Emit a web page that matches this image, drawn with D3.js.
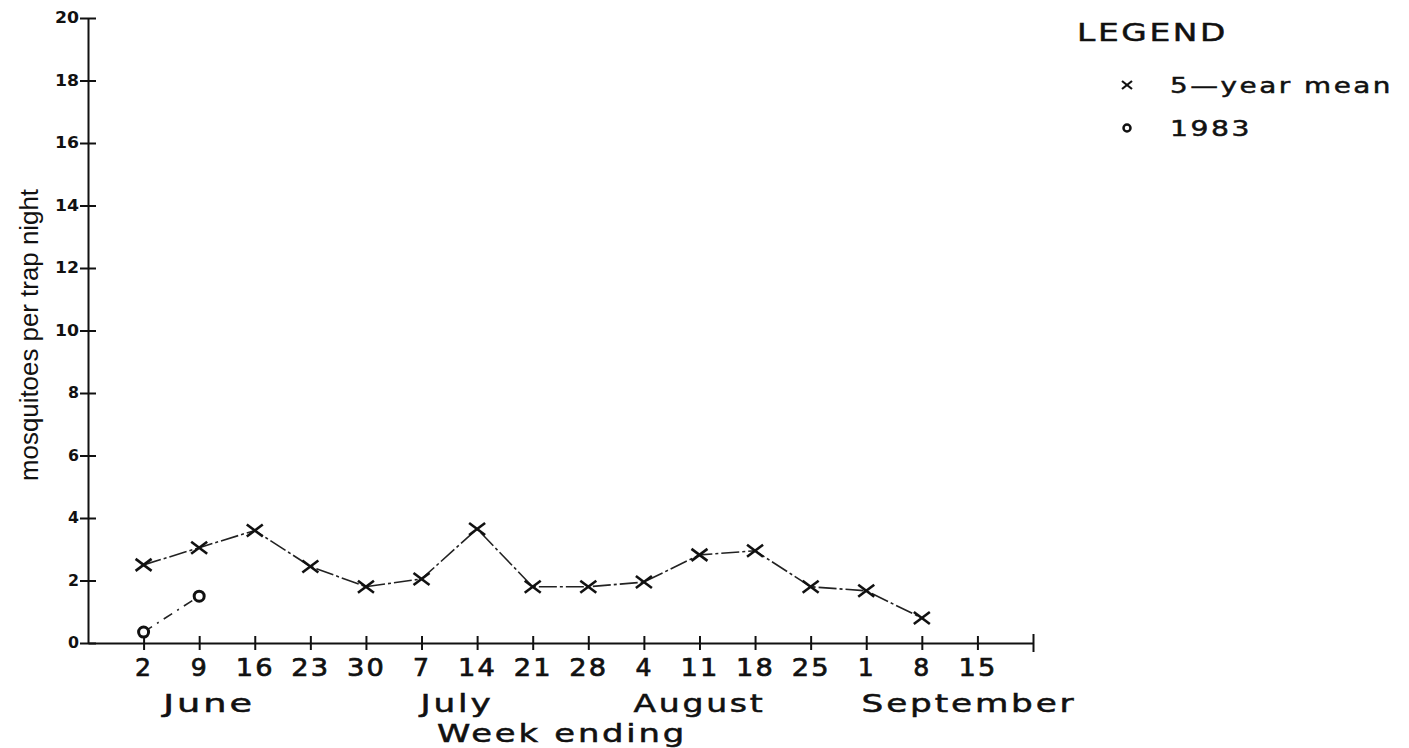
<!DOCTYPE html>
<html><head><meta charset="utf-8">
<script src="https://cdn.jsdelivr.net/npm/d3@7"></script>
<style>
html,body{margin:0;padding:0;background:#fff;}
svg{display:block;}
</style></head>
<body>
<svg id="chart" width="1409" height="748"></svg>
<script>
const weekLabels = ["2","9","16","23","30","7","14","21","28","4","11","18","25","1","8","15"];
const monthLabels = ["June","July","August","September"];
const mean5yr = [2.5,3.05,3.6,2.45,1.8,2.05,3.65,1.8,1.8,1.95,2.82,2.95,1.8,1.67,0.8,null];
const y1983 = [0.35,1.5];
const yTicks = [0,2,4,6,8,10,12,14,16,18,20];
const legendLabels = ["5\u2014year mean","1983"];

const svg = d3.select("#chart");
const x = d3.scaleLinear().domain([0,17]).range([88,1033]);
const y = d3.scaleLinear().domain([0,20]).range([643,18]);
const plotFont = "'DejaVu Sans', sans-serif";

// Y axis
const yAxis = d3.axisLeft(y).tickValues(yTicks).tickSize(0).tickPadding(9).tickFormat(d3.format("d"));
const gy = svg.append("g").attr("transform","translate(88,0)").call(yAxis);
gy.select(".domain").attr("stroke","#111").attr("stroke-width",2);
gy.selectAll(".tick").append("line").attr("x1",-8).attr("x2",8).attr("stroke","#111").attr("stroke-width",2);
gy.selectAll(".tick text").attr("font-family",plotFont).attr("font-size",15).attr("font-weight","bold")
  .attr("textLength",function(){return this.textContent.length===2?24:11;})
  .attr("lengthAdjust","spacingAndGlyphs").attr("fill","#111");

// X axis
const xAxis = d3.axisBottom(x).tickValues(d3.range(1,18)).tickSize(0).tickPadding(15)
  .tickFormat((d)=> d<=weekLabels.length ? weekLabels[d-1] : "");
const gx = svg.append("g").attr("transform","translate(0,643)").call(xAxis);
gx.select(".domain").attr("stroke","#111").attr("stroke-width",2);
gx.selectAll(".tick").append("line").attr("y1",(d)=>d===17?-9:-7).attr("y2",(d)=>d===17?9:7).attr("stroke","#111").attr("stroke-width",2);
gx.selectAll(".tick text").attr("font-family",plotFont).attr("font-size",25).attr("fill","#111")
  .attr("stroke","#111").attr("stroke-width",0.7)
  .attr("letter-spacing",2)
  .attr("textLength",function(){return this.textContent.length===2?39:18;})
  .attr("lengthAdjust","spacingAndGlyphs");

// Month labels
const monthPos = [2.18,6.64,11.0,15.85];
const monthWidth = [92,73,132,215];
const wideText = (sel,w)=>sel.attr("font-family",plotFont).attr("font-size",24).attr("letter-spacing",2)
  .attr("textLength",w).attr("lengthAdjust","spacingAndGlyphs").attr("fill","#111")
  .attr("stroke","#111").attr("stroke-width",0.5);
svg.selectAll("text.month").data(monthLabels).join("text").attr("class","month")
  .attr("x",(d,i)=>x(monthPos[i])).attr("y",712).attr("text-anchor","middle")
  .call(wideText,(d,i)=>monthWidth[i]).text(d=>d);
svg.append("text").attr("x",562).attr("y",742).attr("text-anchor","middle")
  .call(wideText,250).text("Week ending");

// Y title
svg.append("text").attr("transform","translate(38,335) rotate(-90)").attr("text-anchor","middle")
  .attr("font-family","'Liberation Sans',sans-serif").attr("font-size",25)
  .attr("textLength",292).attr("lengthAdjust","spacingAndGlyphs").attr("fill","#111").text("mosquitoes per trap night");

// Lines
const meanPts = mean5yr.map((v,i)=>({i:i+1,v})).filter(d=>d.v!==null);
const line = d3.line().x(d=>x(d.i)).y(d=>y(d.v));
svg.append("path").datum(meanPts).attr("d",line).attr("fill","none").attr("stroke","#222")
  .attr("stroke-width",1.6).attr("stroke-dasharray","18,3,3,3");
const pts83 = y1983.map((v,i)=>({i:i+1,v}));
svg.append("path").datum(pts83).attr("d",line).attr("fill","none").attr("stroke","#222")
  .attr("stroke-width",1.6).attr("stroke-dasharray","10,6,2,6");

// Markers
const xs = 8;
const cross = (g)=>{
  g.append("line").attr("x1",-xs).attr("y1",-xs*0.75).attr("x2",xs).attr("y2",xs*0.75);
  g.append("line").attr("x1",-xs).attr("y1",xs*0.75).attr("x2",xs).attr("y2",-xs*0.75);
};
svg.selectAll("g.cross").data(meanPts).join("g").attr("class","cross")
  .attr("transform",d=>`translate(${x(d.i)},${y(d.v)})`).attr("stroke","#111").attr("stroke-width",2.6)
  .each(function(){cross(d3.select(this));});
svg.selectAll("circle.c83").data(pts83).join("circle").attr("class","c83")
  .attr("cx",d=>x(d.i)).attr("cy",d=>y(d.v)).attr("r",5).attr("fill","#fff").attr("stroke","#111").attr("stroke-width",3);

// Legend
svg.append("text").attr("x",1077).attr("y",41).call(wideText,151).attr("font-size",25).text("LEGEND");
const legendWidth = [223,82];
const lg = svg.selectAll("g.leg").data(legendLabels).join("g").attr("class","leg")
  .attr("transform",(d,i)=>`translate(1127,${85+i*43})`);
lg.append("text").attr("x",43).attr("y",8).call(wideText,(d,i)=>legendWidth[i]).attr("font-size",22).text(d=>d);
lg.filter((d,i)=>i===0).append("g").attr("stroke","#111").attr("stroke-width",2.2)
  .each(function(){const g=d3.select(this);
    g.append("line").attr("x1",-5).attr("y1",-4).attr("x2",5).attr("y2",4);
    g.append("line").attr("x1",-5).attr("y1",4).attr("x2",5).attr("y2",-4);});
lg.filter((d,i)=>i===1).append("circle").attr("r",3.5).attr("fill","#fff").attr("stroke","#111").attr("stroke-width",2.5);
</script>
</body></html>
